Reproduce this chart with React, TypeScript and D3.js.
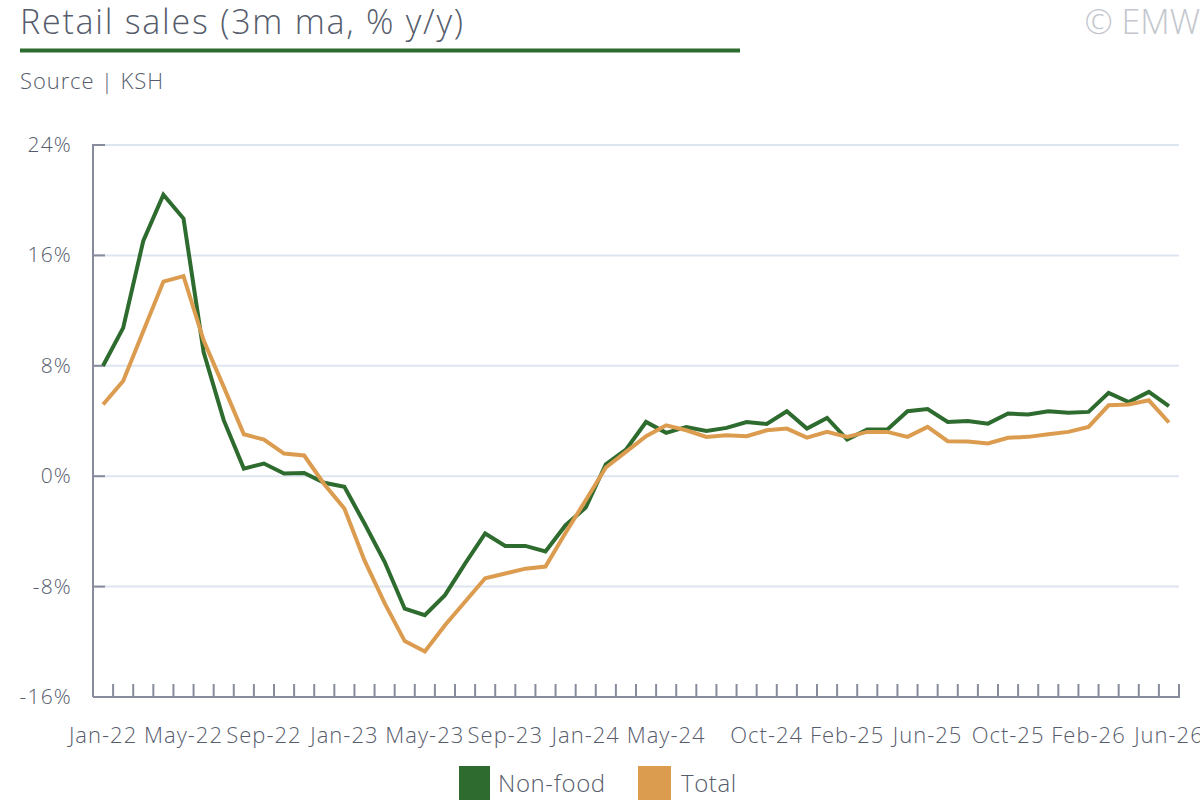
import React from "react";
import * as d3 from "d3";

const months: string[] = (() => {
  const names = ["Jan","Feb","Mar","Apr","May","Jun","Jul","Aug","Sep","Oct","Nov","Dec"];
  const out: string[] = [];
  for (let y = 22; y <= 26; y++) for (let m = 0; m < 12; m++) {
    if (y === 26 && m > 5) break;
    out.push(`${names[m]}-${y}`);
  }
  return out;
})();

const nonFood: number[] = [
  8.0, 10.75, 17.05, 20.4, 18.67, 9.0, 4.06, 0.55, 0.92, 0.2, 0.24, -0.48,
  -0.77, -3.43, -6.2, -9.6, -10.07, -8.62, -6.33, -4.15, -5.05, -5.05, -5.45, -3.55,
  -2.27, 0.87, 1.93, 3.93, 3.14, 3.57, 3.28, 3.5, 3.93, 3.79, 4.71, 3.45,
  4.22, 2.66, 3.38, 3.38, 4.71, 4.86, 3.93, 4.0, 3.81, 4.54, 4.47, 4.71,
  4.59, 4.66, 6.04, 5.38, 6.11, 5.07,
];

const total: number[] = [
  5.2, 6.9, 10.5, 14.1, 14.5, 9.85, 6.47, 3.04, 2.65, 1.64, 1.5, -0.58,
  -2.34, -6.1, -9.2, -11.95, -12.7, -10.8, -9.1, -7.4, -7.05, -6.7, -6.55, -4.1,
  -1.74, 0.63, 1.76, 2.9, 3.69, 3.33, 2.85, 2.97, 2.9, 3.33, 3.45, 2.8,
  3.21, 2.85, 3.21, 3.21, 2.85, 3.57, 2.54, 2.52, 2.37, 2.78, 2.85, 3.04,
  3.21, 3.57, 5.14, 5.19, 5.5, 3.89,
];

const xTickLabels: string[] = [
  "Jan-22", "May-22", "Sep-22", "Jan-23", "May-23", "Sep-23", "Jan-24", "May-24",
  "Oct-24", "Feb-25", "Jun-25", "Oct-25", "Feb-26", "Jun-26",
];

const yTicks: number[] = [-16, -8, 0, 8, 16, 24];

const seriesNames = ["Non-food", "Total"];
const seriesColors = ["#2e6b2e", "#dc9c50"];

const FONT = "'Open Sans', Lato, sans-serif";
const TEXT = "#565c6c";
const AXIS = "#868c9c";
const GRID = "#dde6f0";

export default function App() {
  const left = 93, right = 1179, top = 145, bottom = 697;
  const x = d3.scaleBand<string>().domain(months).range([left, right]);
  const y = d3.scaleLinear().domain([-16, 24]).range([bottom, top]);
  const cx = (m: string) => (x(m) as number) + x.bandwidth() / 2;
  const line = d3.line<number>().x((_, i) => cx(months[i])).y((v) => y(v));
  const series = [nonFood, total];

  return (
    <svg width={1200} height={800} style={{ position: "absolute", left: 0, top: 0, background: "#fff" }} fontFamily={FONT} fontWeight={300}>
      <text x={20} y={34} fontSize={34} fill={TEXT} textLength={443} lengthAdjust="spacing">Retail sales (3m ma, % y/y)</text>
      <rect x={20} y={48.5} width={720} height={4} fill="#2e6b2e" />
      <text x={20} y={89} fontSize={22} fill={TEXT} textLength={143} lengthAdjust="spacing">Source | KSH</text>
      <text x={1200} y={34} fontSize={34} fill="#c3c6cd" textAnchor="end">© EMW</text>

      {yTicks.filter((t) => t > -16).map((t) => (
        <line key={"g" + t} x1={left} x2={right} y1={y(t)} y2={y(t)} stroke={GRID} strokeWidth={2} />
      ))}
      {yTicks.map((t) => (
        <g key={"yt" + t}>
          <line x1={left} x2={left + 12} y1={y(t)} y2={y(t)} stroke={AXIS} strokeWidth={2} />
          <text x={72} y={y(t) + 7} fontSize={21} letterSpacing={1.2} fill={TEXT} textAnchor="end">{t}%</text>
        </g>
      ))}
      <line x1={left} x2={left} y1={top - 1} y2={bottom} stroke={AXIS} strokeWidth={2} />
      <line x1={left} x2={right + 1} y1={bottom} y2={bottom} stroke={AXIS} strokeWidth={2} />
      {months.map((m, i) => (
        i > 0 ? <line key={"xt" + m} x1={x(m) as number} x2={x(m) as number} y1={bottom} y2={bottom - 13} stroke={AXIS} strokeWidth={2} /> : null
      ))}
      <line x1={right} x2={right} y1={bottom} y2={bottom - 13} stroke={AXIS} strokeWidth={2} />
      {xTickLabels.map((m) => (
        <text key={"xl" + m} x={cx(m)} y={743} fontSize={22} letterSpacing={1} fill={TEXT} textAnchor="middle">{m}</text>
      ))}

      {series.map((s, k) => (
        <path key={"s" + k} d={line(s) || ""} fill="none" stroke={seriesColors[k]} strokeWidth={4} strokeLinejoin="miter" />
      ))}

      <rect x={459} y={766} width={31} height={34} fill={seriesColors[0]} />
      <text x={498} y={792} fontSize={24} letterSpacing={0.6} fill={TEXT}>{seriesNames[0]}</text>
      <rect x={638} y={766} width={33} height={34} fill={seriesColors[1]} />
      <text x={681} y={792} fontSize={24} letterSpacing={0.6} fill={TEXT}>{seriesNames[1]}</text>
    </svg>
  );
}
